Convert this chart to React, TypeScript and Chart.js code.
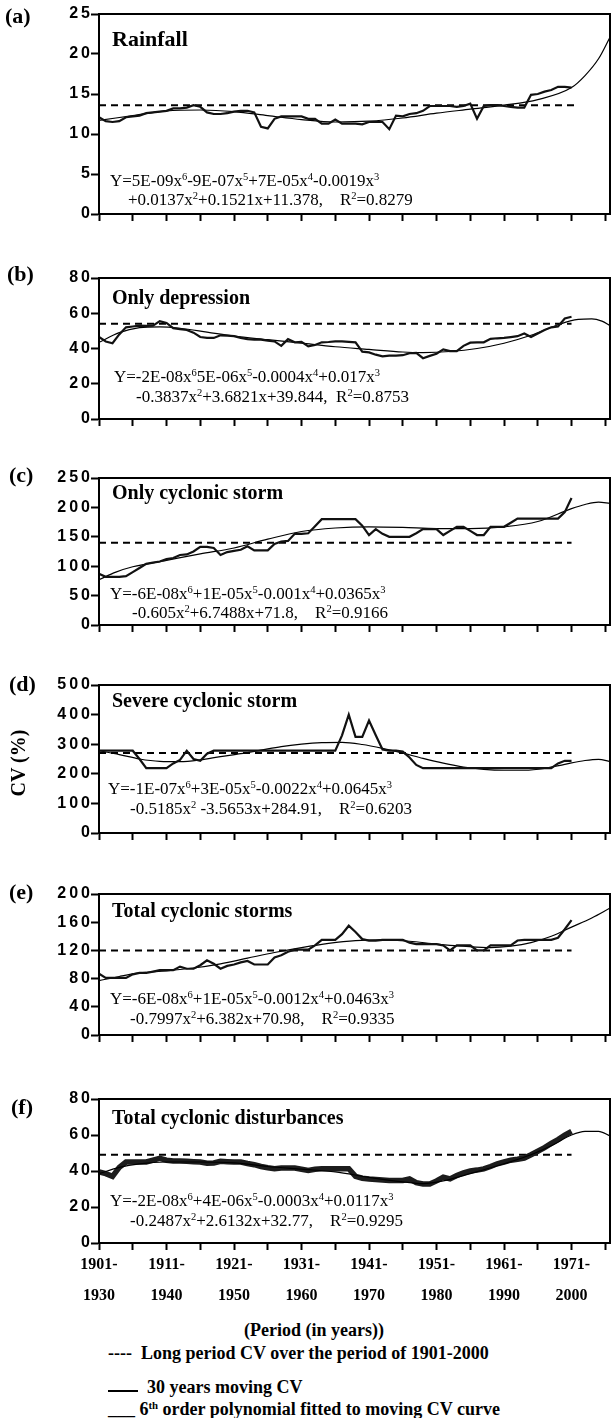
import React, { useEffect, useRef } from 'react';
import { Chart, registerables } from 'chart.js';

Chart.register(...registerables);

// ---------------- data ----------------
const periodLabels = ['1901-1930', '1911-1940', '1921-1950', '1931-1960', '1941-1970', '1951-1980', '1961-1990', '1971-2000'];

// 30-year moving CV, one value per window (1901-1930 ... 1971-2000)
const cvRainfall = [
  12.1, 11.6, 11.5, 11.6, 12.1, 12.2, 12.3, 12.6, 12.7, 12.8,
  12.9, 13.2, 13.2, 13.3, 13.6, 13.4, 12.7, 12.5, 12.5, 12.6,
  12.8, 12.9, 12.9, 12.7, 10.9, 10.7, 11.9, 12.2, 12.2, 12.2,
  12.2, 11.9, 11.9, 11.3, 11.3, 11.8, 11.3, 11.3, 11.3, 11.2,
  11.5, 11.5, 11.5, 10.6, 12.3, 12.2, 12.5, 12.6, 12.9, 13.5,
  13.5, 13.5, 13.5, 13.4, 13.5, 13.8, 11.9, 13.5, 13.6, 13.6,
  13.5, 13.4, 13.3, 13.3, 14.9, 15.0, 15.3, 15.5, 15.9, 15.9,
  15.8,
];
const cvDepression = [
  46.5, 44, 43, 48, 52, 52.5, 53, 52.8, 53, 55.5,
  54.5, 51.5, 51, 50.5, 49, 46.5, 46, 46, 47.5, 47.3,
  47, 46, 45.3, 45, 45, 44.5, 44, 41.5, 45.3, 43.5,
  43.8, 41.2, 42, 43.5, 43.7, 44, 44, 43.8, 43.5, 38.2,
  37.8, 36.5, 35.5, 36, 36, 36.2, 37.3, 37.5, 34.5, 35.8,
  37, 39.5, 38.5, 38.5, 41.5, 43.3, 43.5, 43.5, 45.5, 45.8,
  46, 46.5, 47, 48.5, 46.5, 48.5, 50.5, 52, 52.5, 57,
  58,
];
const cvCyclonic = [
  87, 82, 82, 82, 83, 90, 97, 104, 106, 108,
  112, 114, 119, 120, 125, 133, 133, 131, 119, 124,
  126, 128, 134, 127, 127, 127, 138, 142, 143, 155,
  155, 156, 168, 180, 180, 180, 180, 180, 180, 169,
  153, 163, 155, 150, 150, 150, 150, 156, 163, 163,
  163, 153, 160, 167, 167, 160, 153, 153, 167, 167,
  167, 174, 181, 181, 181, 181, 181, 181, 181, 192,
  216,
];
const cvSevere = [
  278, 278, 278, 278, 278, 278, 250, 219, 219, 219,
  219, 235, 247, 278, 250, 244, 268, 278, 278, 278,
  278, 278, 278, 278, 278, 278, 278, 278, 278, 278,
  278, 278, 278, 278, 278, 278, 330, 400, 325, 325,
  380, 330, 282, 278, 278, 275, 255, 230, 219, 219,
  219, 219, 219, 219, 219, 219, 219, 219, 219, 219,
  219, 219, 219, 219, 219, 219, 219, 219, 235, 244,
  244,
];
const cvTotalStorms = [
  87, 81, 81, 81, 81, 86, 88, 88, 90, 92,
  92, 92, 97, 94, 94, 99, 106, 101, 94, 98,
  100, 103, 105, 100, 100, 100, 110, 113, 118, 121,
  121, 121, 127, 135, 135, 135, 143, 155, 146, 136,
  134, 134, 135, 135, 135, 135, 131, 129, 129, 129,
  129, 127, 120, 127, 127, 127, 120, 120, 127, 127,
  127, 127, 134, 135, 135, 135, 135, 135, 138, 150,
  163,
];
const cvDisturbances = [
  39.5, 38.5, 37, 42, 45, 45, 45, 45, 46, 47,
  46, 45.5, 45.5, 45.4, 45.2, 45, 44.3, 44.5, 45.4, 45.2,
  45, 45, 44.2, 43.5, 42.5, 41.8, 41.3, 41.6, 41.6, 41.6,
  41, 40.3, 41, 41.3, 41.3, 41.3, 41.3, 41.3, 37, 36,
  35.6, 35.3, 35, 34.7, 34.7, 34.7, 35.6, 33.5, 32.8, 32.8,
  34.5, 36.6, 35.6, 37.5, 39, 40, 40.5, 41.2, 42.5, 44,
  45, 46, 46.5, 47.2, 49, 51, 53, 55.3, 57.5, 60,
  62,
];

// 6th order polynomial curves (window index, value)
const polyXRainfall = [0, 5, 10, 15, 20, 25, 30, 35, 40, 45, 50, 55, 60, 65, 70, 72, 74, 75.7];
const polyYRainfall = [11.7, 12.3, 12.9, 13.0, 12.8, 12.3, 11.8, 11.5, 11.6, 12.0, 12.6, 13.1, 13.6, 14.3, 15.8, 17.3, 19.4, 22.1];
const polyXDepression = [0, 3, 6, 9, 12, 16, 20, 25, 30, 35, 40, 45, 48, 52, 56, 60, 64, 68, 71, 73, 74.5, 75.7];
const polyYDepression = [43.5, 49, 51.8, 52.3, 51.5, 49.3, 47, 45, 43, 41, 39.5, 38, 37.7, 38.3, 40, 43, 47.5, 53.5, 56.5, 56.8, 55.5, 53];
const polyXCyclonic = [0, 2.5, 5, 10, 15, 20, 25, 30, 35, 40, 45, 50, 55, 60, 65, 70, 72, 74, 75.7];
const polyYCyclonic = [77, 90, 99, 110, 121, 131, 146, 159, 165, 167, 166, 164, 164, 167, 176, 198, 205, 209, 207];
const polyXSevere = [0, 3, 6, 9, 12, 15, 18, 21, 24, 27, 30, 33, 36, 39, 42, 45, 48, 51, 54, 57, 60, 63, 66, 69, 72, 74, 75.7];
const polyYSevere = [278, 265, 250, 242, 241, 247, 258, 268, 280, 292, 300, 305, 306, 299, 286, 270, 252, 236, 223, 215, 212, 212, 218, 232, 245, 249, 241];
const polyXTotalStorms = [0, 3, 6, 10, 14, 18, 22, 26, 30, 34, 38, 42, 46, 50, 54, 58, 61, 64, 67, 70, 73, 75.7];
const polyYTotalStorms = [77, 83, 88, 91, 95, 101, 109, 117, 124, 130, 134, 135, 133, 129, 126, 124, 126, 131, 140, 153, 166, 180];
const polyXDisturbances = [0, 3, 6, 10, 15, 20, 25, 30, 35, 40, 45, 48, 51, 55, 60, 64, 67, 70, 72, 74, 75.7];
const polyYDisturbances = [38.5, 42, 44, 45, 45, 44.5, 42.5, 41, 39.5, 36.5, 34, 33, 34.5, 38.5, 44, 49, 54, 60, 62, 62, 59.5];

// long period CV over 1901-2000 (dashed line) and where it ends
const longCV = [13.6, 54, 140, 270, 120, 49];
const longCVEnd = [71, 70, 70, 70, 70, 70];

// y axes
const yMax = [25, 80, 250, 500, 200, 80];
const yStep = [5, 20, 50, 100, 40, 20];

const titles = ['Rainfall', 'Only depression', 'Only cyclonic storm', 'Severe cyclonic storm', 'Total cyclonic storms', 'Total cyclonic disturbances'];
const panelTags = ['(a)', '(b)', '(c)', '(d)', '(e)', '(f)'];
const equations = [
  ['Y=5E-09x^6-9E-07x^5+7E-05x^4-0.0019x^3', '+0.0137x^2+0.1521x+11.378,    R^2=0.8279'],
  ['Y=-2E-08x^65E-06x^5-0.0004x^4+0.017x^3', '-0.3837x^2+3.6821x+39.844,  R^2=0.8753'],
  ['Y=-6E-08x^6+1E-05x^5-0.001x^4+0.0365x^3', '-0.605x^2+6.7488x+71.8,    R^2=0.9166'],
  ['Y=-1E-07x^6+3E-05x^5-0.0022x^4+0.0645x^3', '-0.5185x^2 -3.5653x+284.91,    R^2=0.6203'],
  ['Y=-6E-08x^6+1E-05x^5-0.0012x^4+0.0463x^3', '-0.7997x^2+6.382x+70.98,    R^2=0.9335'],
  ['Y=-2E-08x^6+4E-06x^5-0.0003x^4+0.0117x^3', '-0.2487x^2+2.6132x+32.77,    R^2=0.9295'],
];

const cvSeries = [cvRainfall, cvDepression, cvCyclonic, cvSevere, cvTotalStorms, cvDisturbances];
const polyXs = [polyXRainfall, polyXDepression, polyXCyclonic, polyXSevere, polyXTotalStorms, polyXDisturbances];
const polyYs = [polyYRainfall, polyYDepression, polyYCyclonic, polyYSevere, polyYTotalStorms, polyYDisturbances];

// ---------------- layout ----------------
const W = 614;
const AREA_LEFT = 99;
const AREA_RIGHT = 610;
const X_MAX = 75.7;
const areas = [
  { top: 14, bottom: 214 },
  { top: 278, bottom: 419 },
  { top: 478, bottom: 625 },
  { top: 685, bottom: 833 },
  { top: 894, bottom: 1035 },
  { top: 1099, bottom: 1243 },
];
const tagPos = [
  { x: 5, yc: 16 }, { x: 7, yc: 274 }, { x: 9, yc: 475 }, { x: 9, yc: 684 }, { x: 9, yc: 892 }, { x: 11, yc: 1107 },
];
const titleY = [39, 297, 492, 700, 910, 1117];
const titleSize = [22, 20, 20, 20, 20, 20];
const eqY = [[180, 199], [376, 396], [593, 612], [788, 808], [998, 1018], [1200, 1220]];
const eqX = [[110, 128], [114, 136], [110, 132], [108, 130], [110, 130], [110, 130]];
const Y_LETTER_SPACING = '3px';

const framePlugin = {
  id: 'frameBox',
  afterDraw(chart: any) {
    const { ctx, chartArea } = chart;
    ctx.save();
    ctx.strokeStyle = '#000';
    ctx.lineWidth = 2;
    ctx.strokeRect(chartArea.left, chartArea.top, chartArea.right - chartArea.left, chartArea.bottom - chartArea.top);
    ctx.restore();
  },
};

const spacingPlugin = {
  id: 'yTickSpacing',
  beforeDraw(chart: any) {
    const s = chart.scales.y;
    if (s && !s.__spaced) {
      const orig = s.drawLabels.bind(s);
      s.drawLabels = (area: any) => {
        const c = s.ctx;
        c.save();
        try { c.letterSpacing = Y_LETTER_SPACING; } catch (e) { /* ignore */ }
        orig(area);
        c.restore();
      };
      s.__spaced = true;
    }
  },
};

function Panel({ k }: { k: number }) {
  const ref = useRef<HTMLCanvasElement>(null);
  const isLast = k === 5;
  const padTop = 12;
  const padBottom = isLast ? 72 : 12;
  const area = areas[k];
  const h = area.bottom - area.top + padTop + padBottom;
  const canvasTop = area.top - padTop;

  useEffect(() => {
    const cv = cvSeries[k];
    const chart = new Chart(ref.current as HTMLCanvasElement, {
      type: 'line',
      data: {
        datasets: [
          {
            data: cv.map((v, i) => ({ x: i, y: v })),
            borderColor: isLast ? '#1c1c1c' : '#111',
            borderWidth: isLast ? 5.5 : 2.2,
            pointRadius: 0,
            tension: 0,
            order: 1,
          },
          {
            data: polyXs[k].map((x, i) => ({ x, y: polyYs[k][i] })),
            borderColor: '#000',
            borderWidth: 1.2,
            pointRadius: 0,
            cubicInterpolationMode: 'monotone',
            order: isLast ? 0 : 2,
          },
          {
            data: [{ x: 0, y: longCV[k] }, { x: longCVEnd[k], y: longCV[k] }],
            borderColor: '#000',
            borderWidth: 2,
            borderDash: [7, 5],
            pointRadius: 0,
            order: 3,
          },
        ] as any,
      },
      options: {
        animation: false,
        responsive: false,
        events: [],
        layout: { padding: { left: 0, right: W - AREA_RIGHT, top: padTop, bottom: 0 } },
        plugins: { legend: { display: false }, tooltip: { enabled: false }, title: { display: false } },
        scales: {
          x: {
            type: 'linear',
            min: 0,
            max: X_MAX,
            afterFit: (s: any) => { s.height = padBottom; },
            ticks: {
              stepSize: 5,
              includeBounds: false,
              autoSkip: false,
              maxRotation: 0,
              minRotation: 0,
              padding: -1,
              color: '#000',
              font: { family: '"Liberation Serif", serif', weight: 'bold', size: 16, lineHeight: 1.95 },
              callback: (v: any) => {
                const n = Number(v);
                if (!isLast) return '';
                if (n % 10 === 0 && n / 10 < periodLabels.length) {
                  const parts = periodLabels[n / 10].split('-');
                  return [parts[0] + '-', parts[1]];
                }
                return '';
              },
            },
            grid: { drawOnChartArea: false, drawTicks: true, tickLength: 7, tickWidth: 2, color: '#000' },
            border: { display: true, width: 2, color: '#000' },
          },
          y: {
            min: 0,
            max: yMax[k],
            afterFit: (s: any) => { s.width = AREA_LEFT; },
            ticks: {
              stepSize: yStep[k],
              includeBounds: false,
              padding: -2,
              color: '#000',
              font: { family: '"Liberation Sans", Arial, sans-serif', weight: 'bold', size: 16 },
            },
            grid: { drawOnChartArea: false, drawTicks: true, tickLength: 8, tickWidth: 2, color: '#000' },
            border: { display: true, width: 2, color: '#000' },
          },
        },
      } as any,
      plugins: [framePlugin, spacingPlugin],
    });
    return () => chart.destroy();
  }, [k]);

  return (
    <canvas
      ref={ref}
      width={W}
      height={h}
      style={{ position: 'absolute', left: 0, top: canvasTop, width: W, height: h }}
    />
  );
}

function Eq({ text }: { text: string }) {
  const parts = text.split(/\^(\d)/);
  return (
    <>
      {parts.map((p, i) =>
        i % 2 === 1 ? (
          <span key={i} style={{ fontSize: '0.62em', verticalAlign: '0.55em', lineHeight: 0 }}>{p}</span>
        ) : (
          <span key={i}>{p}</span>
        )
      )}
    </>
  );
}

function Txt({ x, yc, size, bold, children, center }: any) {
  return (
    <div
      style={{
        position: 'absolute',
        left: x,
        top: yc - size * 0.5,
        fontSize: size,
        lineHeight: `${size}px`,
        fontWeight: bold ? 'bold' : 'normal',
        whiteSpace: 'pre',
        transform: center ? 'translateX(-50%)' : undefined,
      }}
    >
      {children}
    </div>
  );
}

export default function App() {
  return (
    <div
      style={{
        position: 'absolute',
        left: 0,
        top: 0,
        width: W,
        height: 1418,
        background: '#fff',
        color: '#000',
        fontFamily: '"Liberation Serif", "Times New Roman", serif',
        overflow: 'hidden',
      }}
    >
      {areas.map((_, k) => (
        <Panel key={k} k={k} />
      ))}
      {panelTags.map((t, k) => (
        <Txt key={'tag' + k} x={tagPos[k].x} yc={tagPos[k].yc} size={22} bold>
          {t}
        </Txt>
      ))}
      {titles.map((t, k) => (
        <Txt key={'ti' + k} x={112} yc={titleY[k]} size={titleSize[k]} bold>
          {t}
        </Txt>
      ))}
      {equations.map((lines, k) => (
        <React.Fragment key={'eq' + k}>
          <Txt x={eqX[k][0]} yc={eqY[k][0]} size={17}>
            <Eq text={lines[0]} />
          </Txt>
          <Txt x={eqX[k][1]} yc={eqY[k][1]} size={17}>
            <Eq text={lines[1]} />
          </Txt>
        </React.Fragment>
      ))}
      <div
        style={{
          position: 'absolute',
          left: 18,
          top: 763,
          fontSize: 20,
          lineHeight: '20px',
          fontWeight: 'bold',
          whiteSpace: 'pre',
          transform: 'translate(-50%, -50%) rotate(-90deg)',
        }}
      >
        CV (%)
      </div>
      <Txt x={314} yc={1330} size={18} bold center>
        (Period (in years))
      </Txt>
      <Txt x={108} yc={1353} size={18} bold>
        {'----  Long period CV over the period of 1901-2000'}
      </Txt>
      <Txt x={108} yc={1387} size={18} bold>
        <span
          style={{
            display: 'inline-block',
            width: 30,
            height: 0,
            borderTop: '2.5px solid #000',
            verticalAlign: '0.05em',
          }}
        />
        {'  30 years moving CV'}
      </Txt>
      <Txt x={108} yc={1409} size={18} bold>
        {'___ 6'}
        <span style={{ fontSize: '0.6em', verticalAlign: '0.6em', lineHeight: 0 }}>th</span>
        {' order polynomial fitted to moving CV curve'}
      </Txt>
    </div>
  );
}
